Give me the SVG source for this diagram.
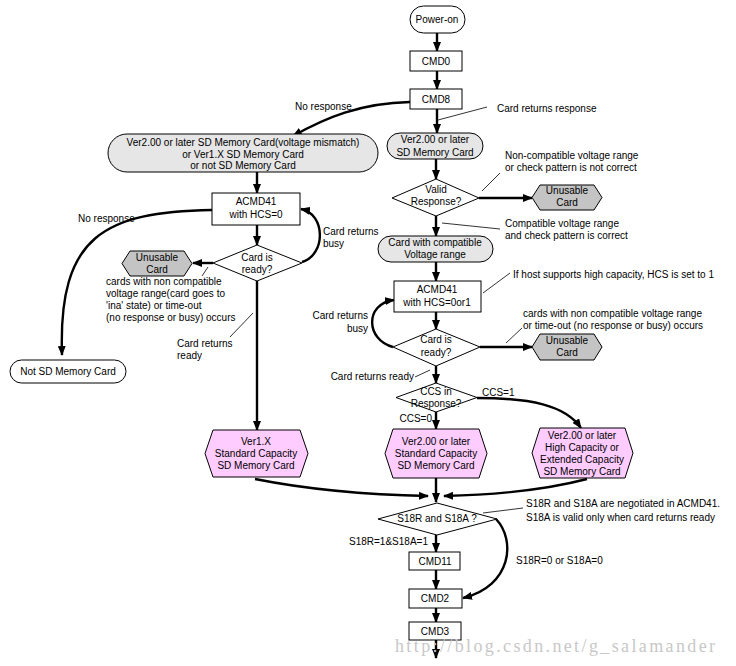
<svg xmlns="http://www.w3.org/2000/svg" width="736" height="666" viewBox="0 0 736 666">
<defs>
<marker id="ah" markerWidth="10" markerHeight="8" refX="9" refY="4" orient="auto" markerUnits="userSpaceOnUse"><path d="M0,0 L10,4 L0,8 z" fill="#000"/></marker>
<style>
text{font-family:"Liberation Sans",Arial,sans-serif;font-size:10px;fill:#000}
.c{text-anchor:middle}
.e{text-anchor:end}
.box{fill:#fff;stroke:#000;stroke-width:1}
.pill{fill:#e6e6e6;stroke:#000;stroke-width:1}
.term{fill:#fff;stroke:#000;stroke-width:1}
.gray{fill:#c4c4c4;stroke:#000;stroke-width:1}
.pink{fill:#ffccff;stroke:#000;stroke-width:1}
.dia{fill:#fff;stroke:#000;stroke-width:1}
.a{fill:none;stroke:#000;stroke-width:2.4;marker-end:url(#ah)}
.l{fill:none;stroke:#000;stroke-width:0.8}
.wm{font-family:"Liberation Serif",serif;font-size:18px;fill:#c8c8c8}
</style>
</defs>
<rect width="736" height="666" fill="#fff"/>

<g id="connectors">
<path class="a" d="M437,33 L437,51"/>
<path class="a" d="M437,71 L437,89"/>
<path class="a" d="M437,109 L437,133"/>
<path class="a" d="M410,102 C360,103 325,118 293,136"/>
<path class="a" d="M257,172 L257,193"/>
<path class="a" d="M257,225 L257,245"/>
<path class="a" d="M302,262 C326,255 326,214 301,209"/>
<path class="a" d="M213,263 L193,263"/>
<path class="a" d="M257,281 L257,430"/>
<path class="a" d="M212,210 C105,212 58,235 62,355"/>
<path class="a" d="M436,159 L436,179"/>
<path class="a" d="M479,198 L532,198"/>
<path class="a" d="M436,216 L436,236"/>
<path class="a" d="M436,262 L436,281"/>
<path class="a" d="M436,312 L436,329"/>
<path class="a" d="M393,347 C366,340 364,304 394,300"/>
<path class="a" d="M480,347 L532,347"/>
<path class="a" d="M436,366 L436,383"/>
<path class="a" d="M477,398 C530,398 565,405 581,428"/>
<path class="a" d="M436,412 L436,429"/>
<path class="a" d="M255,479 Q330,494 428,496"/>
<path class="a" d="M587,479 Q530,494 444,496"/>
<path class="a" d="M436,478 L436,502"/>
<path class="a" d="M436,535 L436,552"/>
<path class="a" d="M436,570 L436,589"/>
<path class="a" d="M436,608 L436,622"/>
<path class="a" d="M436,640 L436,658"/>
<path class="a" d="M496,519 C516,540 512,586 463,598"/>
<path class="l" d="M438,120 L487,107"/>
<path class="l" d="M208,267 L202,276"/>
<path class="l" d="M253,313 L230,337"/>
<path class="l" d="M482,191 L500,173"/>
<path class="l" d="M442,223 L500,229"/>
<path class="l" d="M483,293 L510,273"/>
<path class="l" d="M506,343 L522,328"/>
<path class="l" d="M430,370 L415,377"/>
<path class="l" d="M483,513 L523,508"/>
</g>

<g id="labels">
<text x="497" y="112">Card returns response</text>
<text x="295" y="110">No response</text>
<text x="78" y="222">No response</text>
<text x="323" y="235">Card returns</text>
<text x="323" y="247">busy</text>
<text x="106" y="285">cards with non compatible</text>
<text x="106" y="297">voltage range(card goes to</text>
<text x="106" y="309">'ina' state) or time-out</text>
<text x="106" y="321">(no response or busy) occurs</text>
<text x="177" y="347">Card returns</text>
<text x="177" y="359">ready</text>
<text x="505" y="159">Non-compatible voltage range</text>
<text x="505" y="171">or check pattern is not correct</text>
<text x="505" y="227">Compatible voltage range</text>
<text x="505" y="239">and check pattern is correct</text>
<text x="513" y="278">If host supports high capacity, HCS is set to 1</text>
<text class="e" x="368" y="319">Card returns</text>
<text class="e" x="368" y="332">busy</text>
<text x="523" y="317">cards with non compatible voltage range</text>
<text x="523" y="329">or time-out (no response or busy) occurs</text>
<text class="e" x="414" y="380">Card returns ready</text>
<text x="482" y="396">CCS=1</text>
<text class="e" x="432" y="422">CCS=0</text>
<text x="526" y="507">S18R and S18A are negotiated in ACMD41.</text>
<text x="526" y="521">S18A is valid only when card returns ready</text>
<text x="349" y="545">S18R=1&amp;S18A=1</text>
<text x="516" y="564">S18R=0 or S18A=0</text>
</g>

<g id="power-on"><rect class="term" x="410" y="6" width="55" height="27" rx="13.5"/><text class="c" x="437" y="23">Power-on</text></g>
<g id="cmd0"><rect class="box" x="410" y="51" width="52" height="20"/><text class="c" x="436" y="65">CMD0</text></g>
<g id="cmd8"><rect class="box" x="410" y="89" width="52" height="20"/><text class="c" x="436" y="103">CMD8</text></g>

<g id="left-card"><rect class="pill" x="108" y="134" width="270" height="38" rx="19"/>
<text class="c" x="243" y="146">Ver2.00 or later SD Memory Card(voltage mismatch)</text>
<text class="c" x="243" y="158">or Ver1.X SD Memory Card</text>
<text class="c" x="243" y="169">or not SD Memory Card</text></g>

<g id="acmd41-left"><rect class="box" x="212" y="193" width="88" height="32"/><text class="c" x="256" y="205">ACMD41</text><text class="c" x="256" y="218">with HCS=0</text></g>
<g id="ready-left"><polygon class="dia" points="213,263 257,245 302,263 257,281"/><text class="c" x="257" y="261">Card is</text><text class="c" x="257" y="273">ready?</text></g>
<g id="unusable-left"><polygon class="gray" points="130,251 184,251 192,263.5 184,276 130,276 122,263.5"/><text class="c" x="157" y="261">Unusable</text><text class="c" x="157" y="273">Card</text></g>
<g id="not-sd"><rect class="term" x="10" y="360" width="116" height="23" rx="11.5"/><text class="c" x="68" y="375">Not SD Memory Card</text></g>

<g id="ver2-card"><rect class="pill" x="387" y="133" width="96" height="26" rx="13"/><text class="c" x="435" y="143">Ver2.00 or later</text><text class="c" x="435" y="156">SD Memory Card</text></g>
<g id="valid"><polygon class="dia" points="392,198 436,179 479,198 436,216"/><text class="c" x="436" y="193">Valid</text><text class="c" x="436" y="205">Response?</text></g>
<g id="unusable-1"><polygon class="gray" points="540,185 594,185 602,197.5 594,210 540,210 532,197.5"/><text class="c" x="567" y="194">Unusable</text><text class="c" x="567" y="206">Card</text></g>
<g id="compatible"><rect class="pill" x="378" y="236" width="115" height="26" rx="13"/><text class="c" x="435" y="246">Card with compatible</text><text class="c" x="435" y="258">Voltage range</text></g>
<g id="acmd41-right"><rect class="box" x="394" y="281" width="87" height="31"/><text class="c" x="437" y="293">ACMD41</text><text class="c" x="437" y="306">with HCS=0or1</text></g>
<g id="ready-right"><polygon class="dia" points="393,347 436,329 480,347 436,366"/><text class="c" x="436" y="343">Card is</text><text class="c" x="436" y="356">ready?</text></g>
<g id="unusable-2"><polygon class="gray" points="540,334 594,334 602,347 594,360 540,360 532,347"/><text class="c" x="567" y="344">Unusable</text><text class="c" x="567" y="356">Card</text></g>
<g id="ccs"><polygon class="dia" points="396,397.5 436,383 477,397.5 436,412"/><text class="c" x="436" y="395">CCS in</text><text class="c" x="436" y="407">Response?</text></g>

<g id="ver1x-sc"><polygon class="pink" points="213,430 300,430 308,453.5 300,477 213,477 205,453.5"/><text class="c" x="256" y="445">Ver1.X</text><text class="c" x="256" y="457">Standard Capacity</text><text class="c" x="256" y="469">SD Memory Card</text></g>
<g id="ver2-sc"><polygon class="pink" points="393,429 479,429 487,453.5 479,478 393,478 385,453.5"/><text class="c" x="436" y="445">Ver2.00 or later</text><text class="c" x="436" y="457">Standard Capacity</text><text class="c" x="436" y="469">SD Memory Card</text></g>
<g id="ver2-hc"><polygon class="pink" points="540,428 625,428 633,453 625,478 540,478 532,453"/><text class="c" x="582" y="439">Ver2.00 or later</text><text class="c" x="582" y="451">High Capacity or</text><text class="c" x="582" y="463">Extended Capacity</text><text class="c" x="582" y="475">SD Memory Card</text></g>

<g id="s18"><polygon class="dia" points="378,519 437,503 497,519 437,535"/><text class="c" x="437" y="522">S18R and S18A ?</text></g>
<g id="cmd11"><rect class="box" x="409" y="552" width="51" height="18"/><text class="c" x="435" y="565">CMD11</text></g>
<g id="cmd2"><rect class="box" x="409" y="589" width="53" height="19"/><text class="c" x="435" y="602">CMD2</text></g>
<g id="cmd3"><rect class="box" x="409" y="622" width="52" height="18"/><text class="c" x="435" y="635">CMD3</text></g>

<text class="wm" x="395" y="652" textLength="320" lengthAdjust="spacing">http://blog.csdn.net/g_salamander</text>
</svg>
